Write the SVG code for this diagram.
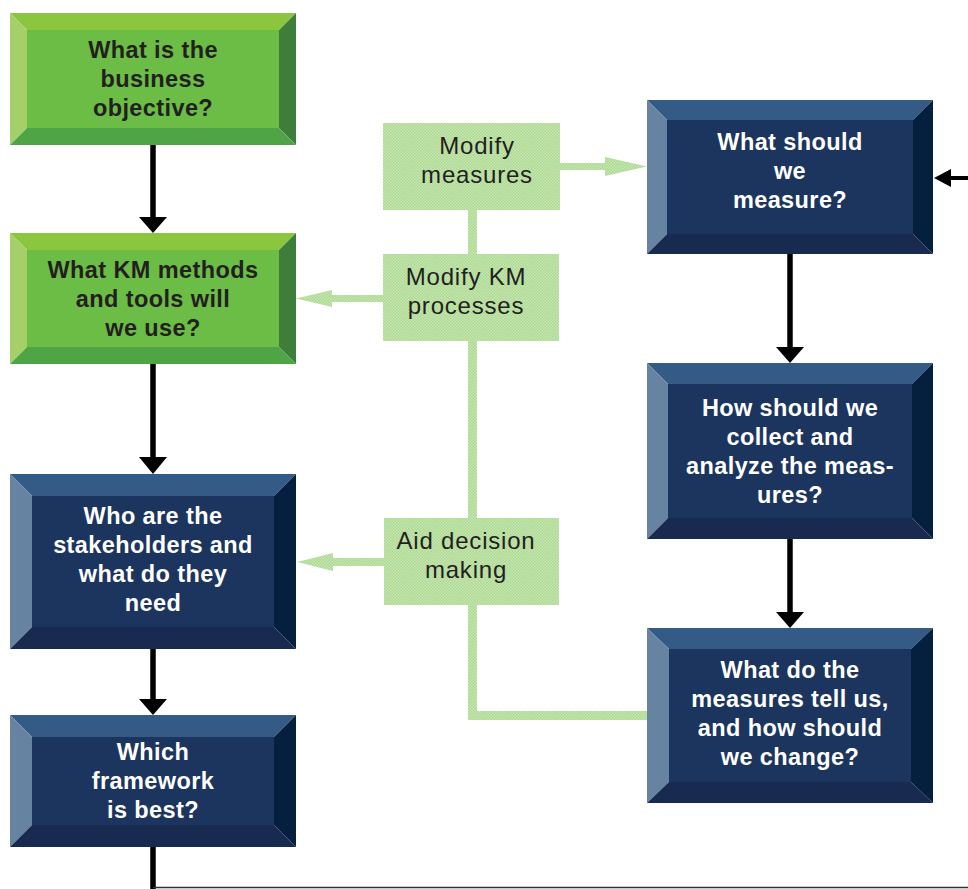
<svg xmlns="http://www.w3.org/2000/svg" width="968" height="889" viewBox="0 0 968 889">
<defs>
<pattern id="tex" width="3" height="3" patternUnits="userSpaceOnUse">
<rect width="3" height="3" fill="#c6e7b1"/>
<rect width="1.5" height="1.5" fill="#acd792"/>
<rect x="1.5" y="1.5" width="1.5" height="1.5" fill="#acd792"/>
</pattern>
<style>
.gt{fill:#8cc63f}.gl{fill:#a5cf68}.gf{fill:#6bbd45}.gr{fill:#3f7e3a}.gb{fill:#4fa546}
.bt{fill:#335b85}.bl{fill:#6684a2}.bf{fill:#1c355e}.br{fill:#05203f}.bb{fill:#182a4f}
.tg{font-family:"Liberation Sans",Arial,sans-serif;font-weight:bold;font-size:23.5px;letter-spacing:0.4px;fill:#231f20;text-anchor:middle}
.tb{font-family:"Liberation Sans",Arial,sans-serif;font-weight:bold;font-size:23.5px;letter-spacing:0.4px;fill:#ffffff;text-anchor:middle}
.tl{font-family:"Liberation Sans",Arial,sans-serif;font-size:24px;letter-spacing:0.8px;fill:#231f20;text-anchor:middle}
.lg{fill:url(#tex)}
.blk{stroke:#000;stroke-width:5.5;fill:none}
.hd{fill:#000}
</style>
</defs>
<rect width="968" height="889" fill="#ffffff"/>

<g id="connectors">
<rect class="lg" x="468" y="210" width="9" height="510"/>
<rect class="lg" x="468" y="711" width="180" height="9"/>
<polygon class="lg" points="560,163 605,163 605,157 647,166.5 605,176 605,170 560,170"/>
<polygon class="lg" points="383,295 332,295 332,290 296,298.5 332,307 332,302 383,302"/>
<polygon class="lg" points="384,558 333,558 333,553 297,562 333,571 333,566 384,566"/>
<line class="blk" x1="153" y1="145" x2="153" y2="219"/>
<polygon class="hd" points="139,217 167,217 153,233"/>
<line class="blk" x1="153" y1="364" x2="153" y2="459"/>
<polygon class="hd" points="139,457 167,457 153,474"/>
<line class="blk" x1="153" y1="649" x2="153" y2="701"/>
<polygon class="hd" points="139,699 167,699 153,715"/>
<line class="blk" x1="790" y1="254" x2="790" y2="349"/>
<polygon class="hd" points="776,347 804,347 790,363"/>
<line class="blk" x1="790" y1="539" x2="790" y2="614"/>
<polygon class="hd" points="776,612 804,612 790,628"/>
<line class="blk" x1="153" y1="847" x2="153" y2="889"/>
<line x1="153" y1="887.5" x2="968" y2="887.5" stroke="#333" stroke-width="1.5"/>
<line x1="968" y1="178" x2="949" y2="178" stroke="#000" stroke-width="4"/>
<polygon class="hd" points="951,169 951,187 934,178"/>
</g>

<g id="n1">
<polygon class="gt" points="10,13 296,13 279,30 27,30"/>
<polygon class="gl" points="10,13 27,30 27,128 10,145"/>
<polygon class="gr" points="296,13 296,145 279,128 279,30"/>
<polygon class="gb" points="10,145 27,128 279,128 296,145"/>
<rect class="gf" x="27" y="30" width="252" height="98"/>
<text class="tg" x="153" y="58">What is the</text>
<text class="tg" x="153" y="87">business</text>
<text class="tg" x="153" y="116">objective?</text>
</g>

<g id="n2">
<polygon class="gt" points="10,233 296,233 279,250 27,250"/>
<polygon class="gl" points="10,233 27,250 27,347 10,364"/>
<polygon class="gr" points="296,233 296,364 279,347 279,250"/>
<polygon class="gb" points="10,364 27,347 279,347 296,364"/>
<rect class="gf" x="27" y="250" width="252" height="97"/>
<text class="tg" x="153" y="278">What KM methods</text>
<text class="tg" x="153" y="307">and tools will</text>
<text class="tg" x="153" y="336">we use?</text>
</g>

<g id="n3">
<polygon class="bt" points="10,474 296,474 274,496 32,496"/>
<polygon class="bl" points="10,474 32,496 32,627 10,649"/>
<polygon class="br" points="296,474 296,649 274,627 274,496"/>
<polygon class="bb" points="10,649 32,627 274,627 296,649"/>
<rect class="bf" x="32" y="496" width="242" height="131"/>
<text class="tb" x="153" y="524">Who are the</text>
<text class="tb" x="153" y="553">stakeholders and</text>
<text class="tb" x="153" y="582">what do they</text>
<text class="tb" x="153" y="611">need</text>
</g>

<g id="n4">
<polygon class="bt" points="10,715 296,715 274,737 32,737"/>
<polygon class="bl" points="10,715 32,737 32,825 10,847"/>
<polygon class="br" points="296,715 296,847 274,825 274,737"/>
<polygon class="bb" points="10,847 32,825 274,825 296,847"/>
<rect class="bf" x="32" y="737" width="242" height="88"/>
<text class="tb" x="153" y="760">Which</text>
<text class="tb" x="153" y="789">framework</text>
<text class="tb" x="153" y="818">is best?</text>
</g>

<g id="n5">
<polygon class="bt" points="647,100 933,100 913,120 667,120"/>
<polygon class="bl" points="647,100 667,120 667,234 647,254"/>
<polygon class="br" points="933,100 933,254 913,234 913,120"/>
<polygon class="bb" points="647,254 667,234 913,234 933,254"/>
<rect class="bf" x="667" y="120" width="246" height="114"/>
<text class="tb" x="790" y="150">What should</text>
<text class="tb" x="790" y="179">we</text>
<text class="tb" x="790" y="208">measure?</text>
</g>

<g id="n6">
<polygon class="bt" points="647,363 933,363 912,384 668,384"/>
<polygon class="bl" points="647,363 668,384 668,518 647,539"/>
<polygon class="br" points="933,363 933,539 912,518 912,384"/>
<polygon class="bb" points="647,539 668,518 912,518 933,539"/>
<rect class="bf" x="668" y="384" width="244" height="134"/>
<text class="tb" x="790" y="416">How should we</text>
<text class="tb" x="790" y="445">collect and</text>
<text class="tb" x="790" y="474">analyze the meas-</text>
<text class="tb" x="790" y="503">ures?</text>
</g>

<g id="n7">
<polygon class="bt" points="647,628 933,628 911,649 669,649"/>
<polygon class="bl" points="647,628 669,649 669,782 647,803"/>
<polygon class="br" points="933,628 933,803 911,782 911,649"/>
<polygon class="bb" points="647,803 669,782 911,782 933,803"/>
<rect class="bf" x="669" y="649" width="242" height="133"/>
<text class="tb" x="790" y="678">What do the</text>
<text class="tb" x="790" y="707">measures tell us,</text>
<text class="tb" x="790" y="736">and how should</text>
<text class="tb" x="790" y="765">we change?</text>
</g>

<g id="m1">
<rect class="lg" x="383" y="123" width="177" height="87"/>
<text class="tl" x="477" y="154">Modify</text>
<text class="tl" x="477" y="183">measures</text>
</g>

<g id="m2">
<rect class="lg" x="383" y="254" width="176" height="87"/>
<text class="tl" x="466" y="285">Modify KM</text>
<text class="tl" x="466" y="314">processes</text>
</g>

<g id="m3">
<rect class="lg" x="384" y="518" width="175" height="87"/>
<text class="tl" x="466" y="549">Aid decision</text>
<text class="tl" x="466" y="578">making</text>
</g>
</svg>
